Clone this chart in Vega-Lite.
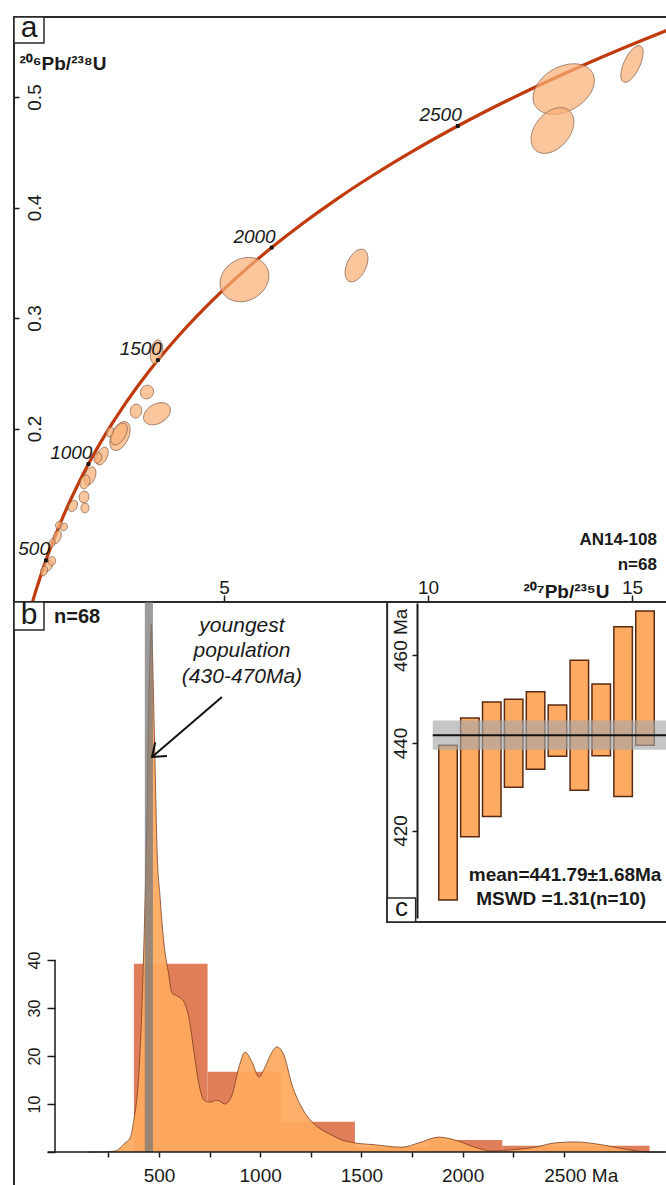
{
  "$schema": "https://vega.github.io/schema/vega-lite/v6.json",
  "padding": {"left": 12, "top": 12, "right": 0, "bottom": 0},
  "background": "white",
  "spacing": 0,
  "bounds": "flush",
  "config": {
    "view": {"stroke": "#2a2a2a", "strokeWidth": 2},
    "font": "Liberation Sans",
    "axis": {"grid": false, "domain": false, "labelFont": "Liberation Sans", "labelColor": "#1a1a1a", "tickColor": "#1a1a1a", "tickWidth": 1.5, "zindex": 1, "labelFontSize": 19, "labelOverlap": false, "labelFlush": false}
  },
  "datasets": {
    "concordia": [
      {"age":200,"px":0.2177,"py":0.03151},{"age":300,"px":0.3437,"py":0.04764},{"age":400,"px":0.4828,"py":0.06402},
      {"age":500,"px":0.6363,"py":0.08065},{"age":600,"px":0.8056,"py":0.09754},{"age":700,"px":0.9925,"py":0.1147},
      {"age":800,"px":1.1987,"py":0.13213},{"age":900,"px":1.4263,"py":0.14983},{"age":1000,"px":1.6774,"py":0.16781},
      {"age":1100,"px":1.9545,"py":0.18606},{"age":1200,"px":2.2603,"py":0.2046},{"age":1300,"px":2.5977,"py":0.22344},
      {"age":1400,"px":2.9701,"py":0.24256},{"age":1500,"px":3.381,"py":0.26199},{"age":1600,"px":3.8344,"py":0.28172},
      {"age":1700,"px":4.3348,"py":0.30175},{"age":1800,"px":4.8869,"py":0.3221},{"age":1900,"px":5.4962,"py":0.34277},
      {"age":2000,"px":6.1685,"py":0.36377},{"age":2100,"px":6.9105,"py":0.38509},{"age":2200,"px":7.7292,"py":0.40674},
      {"age":2300,"px":8.6327,"py":0.42873},{"age":2400,"px":9.6296,"py":0.45107},{"age":2500,"px":10.7297,"py":0.47375},
      {"age":2600,"px":11.9437,"py":0.49679},{"age":2700,"px":13.2833,"py":0.52019},{"age":2800,"px":14.7617,"py":0.54396},
      {"age":2900,"px":16.3929,"py":0.5681},{"age":3000,"px":18.193,"py":0.59261}
    ],
    "ellipses": [
      {"px":13.326,"py":0.5072,"len":1.618,"tilt":30,"r":"0.67"},
      {"px":13.051,"py":0.4697,"len":1.275,"tilt":50,"r":"0.67"},
      {"px":15.0,"py":0.5299,"len":0.98,"tilt":65,"r":"0.40"},
      {"px":5.502,"py":0.3348,"len":1.25,"tilt":30,"r":"0.82"},
      {"px":8.248,"py":0.3475,"len":0.858,"tilt":65,"r":"0.55"},
      {"px":3.346,"py":0.2695,"len":0.588,"tilt":80,"r":"0.50"},
      {"px":3.113,"py":0.233,"len":0.343,"tilt":60,"r":"0.92"},
      {"px":2.843,"py":0.2158,"len":0.343,"tilt":80,"r":"0.82"},
      {"px":3.358,"py":0.2134,"len":0.711,"tilt":30,"r":"0.67"},
      {"px":2.451,"py":0.1932,"len":0.76,"tilt":65,"r":"0.55"},
      {"px":2.426,"py":0.195,"len":0.588,"tilt":60,"r":"0.55"},
      {"px":2.206,"py":0.1968,"len":0.245,"tilt":70,"r":"0.67"},
      {"px":2.01,"py":0.1751,"len":0.466,"tilt":65,"r":"0.55"},
      {"px":1.912,"py":0.1733,"len":0.27,"tilt":70,"r":"0.67"},
      {"px":1.716,"py":0.157,"len":0.466,"tilt":70,"r":"0.55"},
      {"px":1.593,"py":0.1516,"len":0.343,"tilt":70,"r":"0.67"},
      {"px":1.569,"py":0.138,"len":0.294,"tilt":80,"r":"0.82"},
      {"px":1.593,"py":0.1281,"len":0.245,"tilt":85,"r":"0.82"},
      {"px":1.299,"py":0.1299,"len":0.294,"tilt":60,"r":"0.67"},
      {"px":0.907,"py":0.1018,"len":0.343,"tilt":70,"r":"0.55"},
      {"px":0.956,"py":0.1127,"len":0.196,"tilt":60,"r":"0.82"},
      {"px":0.686,"py":0.0756,"len":0.294,"tilt":60,"r":"0.67"},
      {"px":0.588,"py":0.071,"len":0.245,"tilt":70,"r":"0.67"},
      {"px":0.784,"py":0.0801,"len":0.221,"tilt":80,"r":"0.82"},
      {"px":0.784,"py":0.0964,"len":0.221,"tilt":70,"r":"0.67"},
      {"px":1.078,"py":0.1109,"len":0.196,"tilt":60,"r":"0.82"}
    ],
    "markers": [
      {"age":500,"px":0.6363,"py":0.08065},{"age":1000,"px":1.6774,"py":0.16781},
      {"age":1500,"px":3.381,"py":0.26199},{"age":2000,"px":6.1685,"py":0.36377},
      {"age":2500,"px":10.7297,"py":0.47375}
    ],
    "atext": [
      {"px":15.61,"py":0.0991,"t":"AN14-108"},
      {"px":15.61,"py":0.0765,"t":"n=68"}
    ],
    "abox": [{"px":-0.147,"px2":0.588,"py":0.5489,"py2":0.5724}],
    "albl": [{"px":0.2206,"py":0.5606,"t":"a"}],
    "hist": [
      {"ma":376,"ma2":740,"ct":39.2},{"ma":740,"ma2":1104,"ct":16.7},{"ma":1104,"ma2":1468,"ct":6.3},
      {"ma":1468,"ma2":1832,"ct":1},{"ma":1832,"ma2":2196,"ct":2.5},{"ma":2196,"ma2":2560,"ct":1.3},
      {"ma":2560,"ma2":2924,"ct":1.3}
    ],
    "kde": [
      {"ma":150,"ct":0},{"ma":218,"ct":0},{"ma":283,"ct":0.2},{"ma":333,"ct":1.9},{"ma":357,"ct":2.9},
      {"ma":375,"ct":6.5},{"ma":400,"ct":16},{"ma":416,"ct":30.6},{"ma":429,"ct":49},{"ma":441,"ct":71},
      {"ma":449,"ct":92.7},{"ma":456,"ct":104},{"ma":462,"ct":110},{"ma":468,"ct":104},{"ma":474,"ct":92.7},
      {"ma":482,"ct":78},{"ma":490,"ct":63.5},{"ma":506,"ct":52.7},{"ma":523,"ct":44},{"ma":548,"ct":37},
      {"ma":564,"ct":33.1},{"ma":599,"ct":32.3},{"ma":624,"ct":31.2},{"ma":648,"ct":27.9},{"ma":673,"ct":20.8},
      {"ma":698,"ct":14},{"ma":722,"ct":10.8},{"ma":752,"ct":10.4},{"ma":787,"ct":10.8},{"ma":826,"ct":10},
      {"ma":861,"ct":11.9},{"ma":895,"ct":17.7},{"ma":925,"ct":20.8},{"ma":960,"ct":18.7},{"ma":994,"ct":15.6},
      {"ma":1024,"ct":17.7},{"ma":1058,"ct":20.8},{"ma":1083,"ct":21.9},{"ma":1117,"ct":20.2},{"ma":1157,"ct":14},
      {"ma":1206,"ct":9.2},{"ma":1256,"ct":6.25},{"ma":1305,"ct":4.6},{"ma":1355,"ct":3.5},{"ma":1404,"ct":2.5},
      {"ma":1468,"ct":1.9},{"ma":1567,"ct":1.5},{"ma":1700,"ct":1.0},{"ma":1784,"ct":1.9},{"ma":1883,"ct":3.1},
      {"ma":1962,"ct":2.5},{"ma":2061,"ct":1.0},{"ma":2145,"ct":0.2},{"ma":2229,"ct":0.4},{"ma":2358,"ct":1.0},
      {"ma":2457,"ct":1.9},{"ma":2556,"ct":2.1},{"ma":2688,"ct":1.5},{"ma":2802,"ct":0.6},{"ma":2921,"ct":0},
      {"ma":3000,"ct":0}
    ],
    "band": [{"ma":430,"ma2":470}],
    "baxis": [
      {"ma":-50,"ma2":3010,"ct":0,"ct2":0},
      {"ma":-13.8,"ma2":-13.8,"ct":0,"ct2":40}
    ],
    "arrow": [{"ma":811,"ct":94.8,"ma2":465.4,"ct2":82.3}],
    "bnote": [
      {"ma":910,"ct":109.6,"t":"youngest"},
      {"ma":910,"ct":104.4,"t":"population"},
      {"ma":910,"ct":99.0,"t":"(430-470Ma)"}
    ],
    "bn": [{"ma":-18.8,"ct":111.5,"t":"n=68"}],
    "bbox": [{"ma":-216.4,"ma2":-68.2,"ct":108.75,"ct2":114.58}],
    "blbl": [{"ma":-142.3,"ct":111.7,"t":"b"}],
    "cframe": [{"i":-1.78,"i2":12,"age":399.1,"age2":473}],
    "cbars": [
      {"i":1,"age":404.1,"age2":439.5},{"i":2,"age":418.6,"age2":445.7},{"i":3,"age":423.2,"age2":449.4},
      {"i":4,"age":429.9,"age2":450.0},{"i":5,"age":434.0,"age2":451.7},{"i":6,"age":437.0,"age2":448.7},
      {"i":7,"age":429.2,"age2":458.9},{"i":8,"age":437.1,"age2":453.5},{"i":9,"age":427.8,"age2":466.6},
      {"i":10,"age":439.5,"age2":470.2}
    ],
    "cband": [{"i":0.304,"i2":12,"age":438.43,"age2":445.15}],
    "cmean": [{"i":0.304,"i2":12,"age":441.79}],
    "ctext": [
      {"i":6.35,"age":409.83,"t":"mean=441.79±1.68Ma"},
      {"i":6.17,"age":404.3,"t":"MSWD =1.31(n=10)"}
    ],
    "cbox": [{"i":-1.78,"i2":-0.478,"age":399.1,"age2":404.6}],
    "clbl": [{"i":-1.13,"age":401.85,"t":"c"}]
  },
  "vconcat": [
    {
      "width": 653,
      "height": 585,
      "layer": [
        {
          "data": {"name": "concordia"},
          "mark": {"type": "line", "stroke": "#c13a0b", "strokeWidth": 3.2, "clip": true, "interpolate": "monotone"},
          "encoding": {
            "x": {"field": "px", "type": "quantitative",
              "scale": {"domain": [-0.147, 15.858], "nice": false, "zero": false},
              "axis": {"values": [5, 10, 15], "tickSize": -7, "labelPadding": -2, "labelBaseline": "alphabetic",
                "title": "²⁰⁷Pb/²³⁵U", "titleX": 552, "titleY": -5, "titleAlign": "center", "titleBaseline": "alphabetic",
                "titleFontSize": 19, "titleFontWeight": "bold", "titleColor": "#1a1a1a", "titleFont": "Liberation Sans"}},
            "y": {"field": "py", "type": "quantitative",
              "scale": {"domain": [0.043, 0.5724], "nice": false, "zero": false},
              "axis": {"values": [0.2, 0.3, 0.4, 0.5], "format": ".1f", "tickSize": -5, "labelPadding": -21,
                "labelAngle": -90, "labelAlign": "center", "labelBaseline": "alphabetic",
                "title": "²⁰⁶Pb/²³⁸U", "titleAngle": 0, "titleX": 5, "titleY": 52, "titleAlign": "left", "titleBaseline": "alphabetic",
                "titleFontSize": 19, "titleFontWeight": "bold", "titleColor": "#1a1a1a", "titleFont": "Liberation Sans"}},
            "order": {"field": "age", "type": "quantitative"}
          }
        },
        {
          "data": {"name": "ellipses"},
          "mark": {"type": "point", "filled": true, "fill": "#fbb077", "fillOpacity": 0.72, "opacity": 1, "stroke": "#8a6550", "strokeWidth": 0.7, "clip": true},
          "encoding": {
            "x": {"field": "px", "type": "quantitative"},
            "y": {"field": "py", "type": "quantitative"},
            "size": {"field": "len", "type": "quantitative", "scale": {"type": "pow", "exponent": 2, "domain": [0, 1], "range": [0, 1664.6]}, "legend": null},
            "angle": {"field": "tilt", "type": "quantitative", "scale": {"domain": [0, 180], "range": [0, -180]}},
            "shape": {"field": "r", "type": "nominal", "legend": null,
              "scale": {"domain": ["0.40", "0.50", "0.55", "0.67", "0.82", "0.92"],
                "range": [
                  "M-1,0A1,0.4,0,1,1,1,0A1,0.4,0,1,1,-1,0Z",
                  "M-1,0A1,0.5,0,1,1,1,0A1,0.5,0,1,1,-1,0Z",
                  "M-1,0A1,0.55,0,1,1,1,0A1,0.55,0,1,1,-1,0Z",
                  "M-1,0A1,0.67,0,1,1,1,0A1,0.67,0,1,1,-1,0Z",
                  "M-1,0A1,0.82,0,1,1,1,0A1,0.82,0,1,1,-1,0Z",
                  "M-1,0A1,0.92,0,1,1,1,0A1,0.92,0,1,1,-1,0Z"
                ]}}
          }
        },
        {
          "data": {"name": "markers"},
          "mark": {"type": "point", "shape": "square", "filled": true, "fill": "#111", "opacity": 1, "size": 14},
          "encoding": {
            "x": {"field": "px", "type": "quantitative"},
            "y": {"field": "py", "type": "quantitative"}
          }
        },
        {
          "data": {"name": "markers"},
          "mark": {"type": "text", "align": "right", "baseline": "alphabetic", "dx": 4, "dy": -5, "fontStyle": "italic", "fontSize": 19, "fill": "#1a1a1a", "font": "Liberation Sans"},
          "encoding": {
            "x": {"field": "px", "type": "quantitative"},
            "y": {"field": "py", "type": "quantitative"},
            "text": {"field": "age", "type": "quantitative", "format": "d"}
          }
        },
        {
          "data": {"name": "atext"},
          "mark": {"type": "text", "align": "right", "baseline": "middle", "fontWeight": "bold", "fontSize": 17, "fill": "#1a1a1a", "font": "Liberation Sans"},
          "encoding": {
            "x": {"field": "px", "type": "quantitative"},
            "y": {"field": "py", "type": "quantitative"},
            "text": {"field": "t"}
          }
        },
        {
          "data": {"name": "abox"},
          "mark": {"type": "rect", "fill": "white", "stroke": "#2a2a2a", "strokeWidth": 1.5},
          "encoding": {
            "x": {"field": "px", "type": "quantitative"},
            "x2": {"field": "px2"},
            "y": {"field": "py", "type": "quantitative"},
            "y2": {"field": "py2"}
          }
        },
        {
          "data": {"name": "albl"},
          "mark": {"type": "text", "align": "center", "baseline": "middle", "fontSize": 30, "fill": "#1a1a1a", "font": "Liberation Sans", "dy": -2},
          "encoding": {
            "x": {"field": "px", "type": "quantitative"},
            "y": {"field": "py", "type": "quantitative"},
            "text": {"field": "t"}
          }
        }
      ]
    },
    {
      "width": 653,
      "height": 586,
      "resolve": {"scale": {"x": "independent", "y": "independent"}, "axis": {"x": "independent", "y": "independent"}},
      "layer": [
        {
          "layer": [
            {
              "data": {"name": "hist"},
              "mark": {"type": "rect", "fill": "#e07e5a"},
              "encoding": {
                "x": {"field": "ma", "type": "quantitative",
                  "scale": {"domain": [-216.4, 3009.9], "nice": false, "zero": false},
                  "axis": {"orient": "bottom", "offset": -36, "values": [250, 500, 750, 1000, 1250, 1500, 1750, 2000, 2250, 2500],
                    "format": "d", "labelExpr": "datum.value % 500 == 0 ? (datum.value == 2500 ? '2500 Ma' : datum.label) : ''",
                    "tickSize": 5, "labelPadding": 9, "title": null,
                    "labelAlign": {"condition": {"test": "datum.value == 2500", "value": "left"}, "value": "center"},
                    "labelOffset": {"condition": {"test": "datum.value == 2500", "value": -20}, "value": 0}}},
                "x2": {"field": "ma2"},
                "y": {"field": "ct", "type": "quantitative",
                  "scale": {"domain": [-7.5, 114.58], "nice": false, "zero": false},
                  "axis": {"orient": "left", "offset": -41, "values": [0, 10, 20, 30, 40],
                    "labelExpr": "datum.value == 0 ? '' : datum.label",
                    "tickSize": 8, "labelPadding": 8, "labelAngle": -90, "labelAlign": "center", "labelBaseline": "alphabetic",
                    "labelFontSize": 16, "title": null}},
                "y2": {"datum": 0}
              }
            },
            {
              "data": {"name": "kde"},
              "mark": {"type": "area", "fill": "#fea95f", "fillOpacity": 0.93, "interpolate": "monotone"},
              "encoding": {
                "x": {"field": "ma", "type": "quantitative"},
                "y": {"field": "ct", "type": "quantitative"}
              }
            },
            {
              "data": {"name": "kde"},
              "mark": {"type": "line", "stroke": "#7d3e1e", "strokeWidth": 0.8, "interpolate": "monotone"},
              "encoding": {
                "x": {"field": "ma", "type": "quantitative"},
                "y": {"field": "ct", "type": "quantitative"}
              }
            },
            {
              "data": {"name": "band"},
              "mark": {"type": "rect", "fill": "#7a7a7a", "opacity": 0.75},
              "encoding": {
                "x": {"field": "ma", "type": "quantitative"},
                "x2": {"field": "ma2"},
                "y": {"datum": 0},
                "y2": {"datum": 114.58}
              }
            },
            {
              "data": {"name": "baxis"},
              "mark": {"type": "rule", "stroke": "#1a1a1a", "strokeWidth": 1.5, "clip": true},
              "encoding": {
                "x": {"field": "ma", "type": "quantitative"},
                "x2": {"field": "ma2"},
                "y": {"field": "ct", "type": "quantitative"},
                "y2": {"field": "ct2"}
              }
            },
            {
              "data": {"name": "arrow"},
              "mark": {"type": "rule", "stroke": "#111", "strokeWidth": 2},
              "encoding": {
                "x": {"field": "ma", "type": "quantitative"},
                "x2": {"field": "ma2"},
                "y": {"field": "ct", "type": "quantitative"},
                "y2": {"field": "ct2"}
              }
            },
            {
              "data": {"name": "arrow"},
              "mark": {"type": "point", "shape": "M-1,-0.75L0,0L-1,0.75", "filled": false, "stroke": "#111", "strokeWidth": 2, "opacity": 1, "size": 576, "angle": 139.4},
              "encoding": {
                "x": {"field": "ma2", "type": "quantitative"},
                "y": {"field": "ct2", "type": "quantitative"}
              }
            },
            {
              "data": {"name": "bnote"},
              "mark": {"type": "text", "align": "center", "baseline": "middle", "fontStyle": "italic", "fontSize": 21, "fill": "#1a1a1a", "font": "Liberation Sans"},
              "encoding": {
                "x": {"field": "ma", "type": "quantitative"},
                "y": {"field": "ct", "type": "quantitative"},
                "text": {"field": "t"}
              }
            },
            {
              "data": {"name": "bn"},
              "mark": {"type": "text", "align": "left", "baseline": "middle", "fontWeight": "bold", "fontSize": 20, "fill": "#1a1a1a", "font": "Liberation Sans"},
              "encoding": {
                "x": {"field": "ma", "type": "quantitative"},
                "y": {"field": "ct", "type": "quantitative"},
                "text": {"field": "t"}
              }
            },
            {
              "data": {"name": "bbox"},
              "mark": {"type": "rect", "fill": "white", "stroke": "#2a2a2a", "strokeWidth": 1.5},
              "encoding": {
                "x": {"field": "ma", "type": "quantitative"},
                "x2": {"field": "ma2"},
                "y": {"field": "ct", "type": "quantitative"},
                "y2": {"field": "ct2"}
              }
            },
            {
              "data": {"name": "blbl"},
              "mark": {"type": "text", "align": "center", "baseline": "middle", "fontSize": 30, "fill": "#1a1a1a", "font": "Liberation Sans", "dy": -1},
              "encoding": {
                "x": {"field": "ma", "type": "quantitative"},
                "y": {"field": "ct", "type": "quantitative"},
                "text": {"field": "t"}
              }
            }
          ]
        },
        {
          "layer": [
            {
              "data": {"name": "cframe"},
              "mark": {"type": "rect", "fillOpacity": 0, "stroke": "#2a2a2a", "strokeWidth": 2, "clip": true},
              "encoding": {
                "x": {"field": "i", "type": "quantitative",
                  "scale": {"domain": [1, 10], "range": [429, 636], "nice": false, "zero": false},
                  "axis": null},
                "x2": {"field": "i2"},
                "y": {"field": "age", "type": "quantitative",
                  "scale": {"domain": [400, 472], "range": [316, 1], "nice": false, "zero": false},
                  "axis": {"orient": "left", "offset": -403, "values": [420, 440, 460], "zindex": 3,
                    "domain": true, "domainColor": "#1a1a1a", "domainWidth": 2,
                    "labelExpr": "datum.value == 460 ? '460 Ma' : datum.label",
                    "tickSize": 5, "labelPadding": 6, "labelAngle": -90, "labelBaseline": "alphabetic",
                    "labelAlign": {"condition": {"test": "datum.value == 460", "value": "left"}, "value": "center"},
                    "labelOffset": {"condition": {"test": "datum.value == 460", "value": 16}, "value": 0},
                    "labelFontSize": 19, "title": null}},
                "y2": {"field": "age2"}
              }
            },
            {
              "data": {"name": "cbars"},
              "mark": {"type": "bar", "fill": "#fdaa63", "stroke": "#5a2a10", "strokeWidth": 1.5, "width": 18.5},
              "encoding": {
                "x": {"field": "i", "type": "quantitative"},
                "y": {"field": "age", "type": "quantitative"},
                "y2": {"field": "age2"}
              }
            },
            {
              "data": {"name": "cband"},
              "mark": {"type": "rect", "fill": "#a8a8a8", "opacity": 0.65, "clip": true},
              "encoding": {
                "x": {"field": "i", "type": "quantitative"},
                "x2": {"field": "i2"},
                "y": {"field": "age", "type": "quantitative"},
                "y2": {"field": "age2"}
              }
            },
            {
              "data": {"name": "cmean"},
              "mark": {"type": "rule", "stroke": "#111", "strokeWidth": 2, "clip": true},
              "encoding": {
                "x": {"field": "i", "type": "quantitative"},
                "x2": {"field": "i2"},
                "y": {"field": "age", "type": "quantitative"}
              }
            },
            {
              "data": {"name": "ctext"},
              "mark": {"type": "text", "align": "center", "baseline": "middle", "fontWeight": "bold", "fontSize": 19, "fill": "#1a1a1a", "font": "Liberation Sans"},
              "encoding": {
                "x": {"field": "i", "type": "quantitative"},
                "y": {"field": "age", "type": "quantitative"},
                "text": {"field": "t"}
              }
            },
            {
              "data": {"name": "cbox"},
              "mark": {"type": "rect", "fill": "white", "stroke": "#2a2a2a", "strokeWidth": 1.5},
              "encoding": {
                "x": {"field": "i", "type": "quantitative"},
                "x2": {"field": "i2"},
                "y": {"field": "age", "type": "quantitative"},
                "y2": {"field": "age2"}
              }
            },
            {
              "data": {"name": "clbl"},
              "mark": {"type": "text", "align": "center", "baseline": "middle", "fontSize": 26, "fill": "#1a1a1a", "font": "Liberation Sans", "dy": -2},
              "encoding": {
                "x": {"field": "i", "type": "quantitative"},
                "y": {"field": "age", "type": "quantitative"},
                "text": {"field": "t"}
              }
            }
          ]
        }
      ]
    }
  ]
}
